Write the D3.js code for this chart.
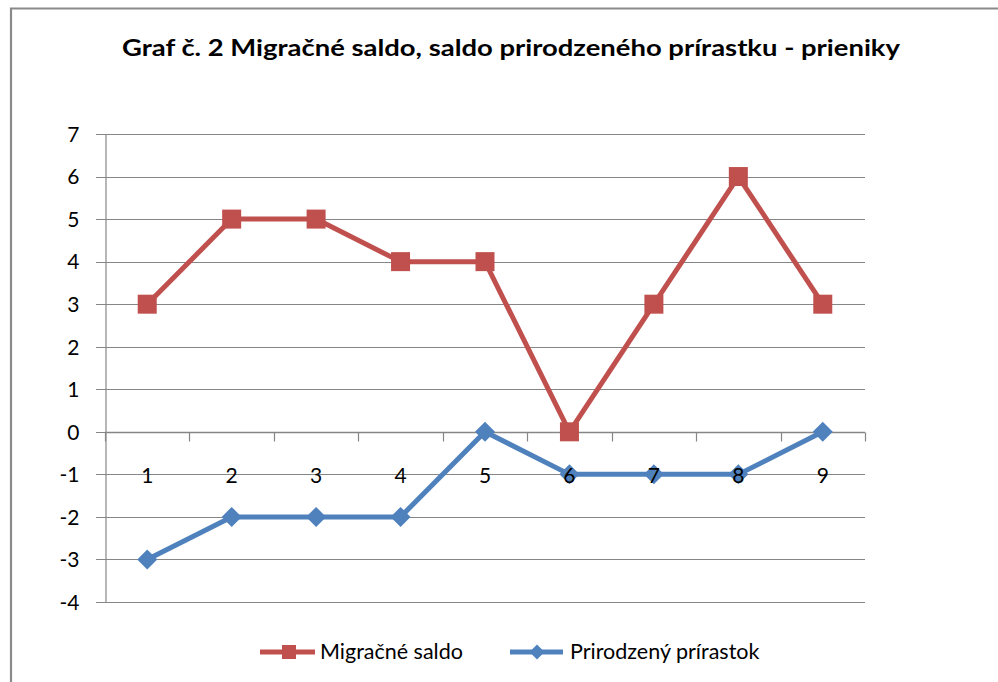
<!DOCTYPE html>
<html>
<head>
<meta charset="utf-8">
<script src="https://cdn.jsdelivr.net/npm/d3@7"></script>
<style>
html,body{margin:0;padding:0;background:#fff;}
svg{display:block;}
</style>
</head>
<body>
<svg id="chart" width="998" height="682"></svg>
<script>
const title = "Graf č. 2 Migračné saldo, saldo prirodzeného prírastku - prieniky";
const categories = ["1","2","3","4","5","6","7","8","9"];
const migracneSaldo = [3,5,5,4,4,0,3,6,3];
const prirodzenyPrirastok = [-3,-2,-2,-2,0,-1,-1,-1,0];
const yTicks = [-4,-3,-2,-1,0,1,2,3,4,5,6,7];
const seriesNames = ["Migračné saldo","Prirodzený prírastok"];

const FONT = "Lato, 'Open Sans', 'Liberation Sans', sans-serif";
const RED = "#C0504D", BLUE = "#4F81BD", GRID = "#868686";

const svg = d3.select("#chart");

// outer chart border (only top and left visible)
svg.append("path")
  .attr("d","M11,700 L11,8.5 L1010,8.5")
  .attr("fill","none").attr("stroke","#8a8a8a").attr("stroke-width",2.2);

// title
svg.append("text")
  .attr("x",511).attr("y",56)
  .attr("text-anchor","middle")
  .attr("font-family",FONT).attr("font-weight","bold").attr("font-size",23.5)
  .attr("fill","#000")
  .attr("textLength",778).attr("lengthAdjust","spacingAndGlyphs")
  .text(title);

const x = d3.scaleBand().domain(categories).range([105,865]).padding(0);
const y = d3.scaleLinear().domain([-4,7]).range([602,134]);
const cx = c => x(c) + x.bandwidth()/2;

// gridlines
svg.append("g").selectAll("line").data(yTicks).join("line")
  .attr("x1",96).attr("x2",865)
  .attr("y1",d=>Math.round(y(d))+0.5).attr("y2",d=>Math.round(y(d))+0.5)
  .attr("stroke",GRID).attr("stroke-width",1.2);

// y axis
const yAxis = d3.axisLeft(y).tickValues(yTicks).tickSize(0).tickPadding(0).tickFormat(d => String(d));
const ya = svg.append("g").attr("transform","translate(105.5,0)").call(yAxis);
ya.select(".domain").attr("stroke",GRID).attr("stroke-width",1.2);
ya.selectAll("text").attr("x",-26).attr("font-family",FONT).attr("font-size",21).attr("fill","#000")
  .attr("dy","0.35em");

// x axis at y=0
const y0 = Math.round(y(0))+0.5;
svg.append("line").attr("x1",105).attr("x2",865).attr("y1",y0).attr("y2",y0)
  .attr("stroke",GRID).attr("stroke-width",1.4);
const bounds = d3.range(categories.length+1).map(i => x.range()[0] + i*x.step());
svg.append("g").selectAll("line").data(bounds).join("line")
  .attr("x1",d=>Math.round(d)+0.5).attr("x2",d=>Math.round(d)+0.5)
  .attr("y1",y0).attr("y2",y0+9)
  .attr("stroke",GRID).attr("stroke-width",1.2);

// lines
const line = d3.line().x((d,i)=>cx(categories[i])).y(d=>y(d));
svg.append("path").datum(migracneSaldo).attr("d",line)
  .attr("fill","none").attr("stroke",RED).attr("stroke-width",5).attr("stroke-linejoin","round");
svg.append("path").datum(prirodzenyPrirastok).attr("d",line)
  .attr("fill","none").attr("stroke",BLUE).attr("stroke-width",5).attr("stroke-linejoin","round");

// markers
const sq = 19;
svg.append("g").selectAll("rect").data(migracneSaldo).join("rect")
  .attr("x",(d,i)=>cx(categories[i])-sq/2).attr("y",d=>y(d)-sq/2)
  .attr("width",sq).attr("height",sq).attr("fill",RED);
const diamond = r => `M0,${-r}L${r},0L0,${r}L${-r},0Z`;
svg.append("g").selectAll("path").data(prirodzenyPrirastok).join("path")
  .attr("transform",(d,i)=>`translate(${cx(categories[i])},${y(d)})`)
  .attr("d",diamond(10)).attr("fill",BLUE);

// category labels (drawn on top of the series, as in the reference)
svg.append("g").selectAll("text").data(categories).join("text")
  .attr("x",d=>cx(d)).attr("y",y(0)+43)
  .attr("text-anchor","middle").attr("dominant-baseline","central")
  .attr("font-family",FONT).attr("font-size",21).attr("fill","#000")
  .text(d=>d);

// legend
const lg = svg.append("g");
lg.append("line").attr("x1",260).attr("x2",315).attr("y1",652).attr("y2",652).attr("stroke",RED).attr("stroke-width",5);
lg.append("rect").attr("x",282).attr("y",645).attr("width",14).attr("height",14).attr("fill",RED);
lg.append("text").attr("x",320).attr("y",659).attr("font-family",FONT).attr("font-size",21.5).attr("fill","#000").text(seriesNames[0]);
lg.append("line").attr("x1",510).attr("x2",563).attr("y1",652).attr("y2",652).attr("stroke",BLUE).attr("stroke-width",5);
lg.append("path").attr("transform","translate(537,652)").attr("d",diamond(7.5)).attr("fill",BLUE);
lg.append("text").attr("x",570).attr("y",659).attr("font-family",FONT).attr("font-size",21.5).attr("fill","#000").text(seriesNames[1]);
</script>
</body>
</html>
